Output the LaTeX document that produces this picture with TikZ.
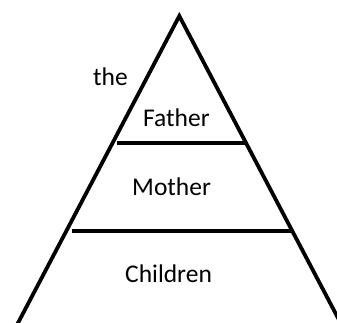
\documentclass[tikz,border=0pt]{standalone}
\usepackage{fontspec}
\setmainfont{Carlito}
\begin{document}
\begin{tikzpicture}[x=1pt,y=-1pt,
  lbl/.style={inner sep=0pt,anchor=base west,font=\fontsize{25.5}{30}\selectfont},
  leg/.style={line width=3.8pt,line join=miter},
  bar/.style={line width=4.2pt}]
\useasboundingbox (0,0) rectangle (337,322);
\clip (0,0) rectangle (337,322);
\coordinate (apex) at (179.3,16);
\coordinate (bl) at (4.3,349);
\coordinate (br) at (354.3,349);
\coordinate (f1) at (117,143);
\coordinate (f2) at (245,143);
\coordinate (m1) at (71.5,230.7);
\coordinate (m2) at (291,230.7);
\draw[leg] (bl) -- (apex) -- (br);
\draw[bar] (f1) -- (f2);
\draw[bar] (m1) -- (m2);
\node[lbl] (the) at (93,85) {the};
\node[lbl] (father) at (143,126) {Father};
\node[lbl] (mother) at (132,195) {Mother};
\node[lbl] (children) at (125,282) {Children};
\end{tikzpicture}
\end{document}
